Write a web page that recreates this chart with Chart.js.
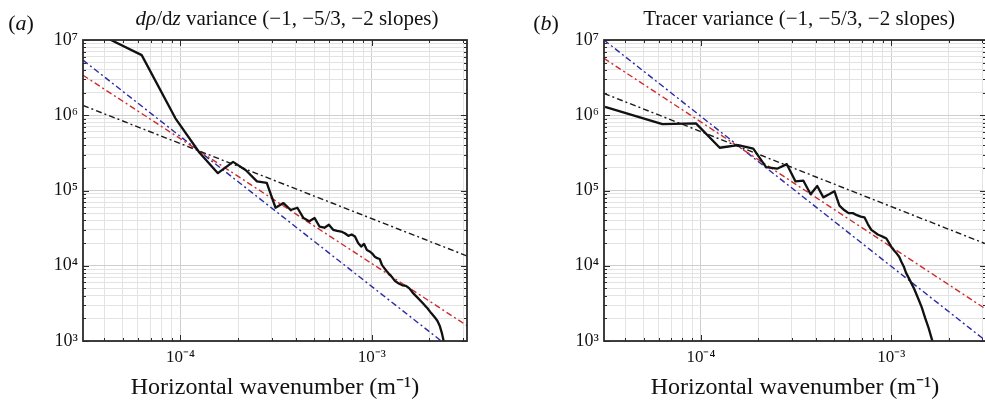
<!DOCTYPE html>
<html>
<head>
<meta charset="utf-8">
<script src="https://cdn.jsdelivr.net/npm/chart.js@4.4.1/dist/chart.umd.min.js"></script>
<style>
  html, body { margin: 0; padding: 0; background: #fff; overflow: hidden; }
  #wrap { position: relative; width: 985px; height: 404px; overflow: hidden; }
  canvas { position: absolute; top: 0; }
  #panelA { left: 0; }
  #panelB { left: 492px; }
</style>
</head>
<body>
<div id="wrap">
  <canvas id="panelA" width="492" height="404"></canvas>
  <canvas id="panelB" width="500" height="404"></canvas>
</div>
<script>
// wavenumber spacing (rad/m); the spectra are given at integer multiples of it
const dk = 3.14e-5;

// (a) d rho/dz variance spectrum
const modesA = [1, 2, 3, 4, 5, 6, 7, 8, 9, 10, 11, 12, 13, 14, 15, 16, 17, 18, 19, 20,
  21, 22, 23, 24, 25, 26, 27, 28, 29, 30, 31, 32, 33, 34, 35, 36, 37, 38, 39, 40,
  42, 44, 46, 48, 50, 52, 55, 58, 60, 62, 65, 68, 70, 72, 74, 76];
const varA = [1.5e7, 6.3e6, 9.1e5, 3.2e5, 1.7e5, 2.4e5, 1.86e5, 1.32e5, 1.26e5, 5.9e4,
  6.8e4, 5.5e4, 5.9e4, 4.3e4, 3.9e4, 4.3e4, 3.3e4, 3.2e4, 3.5e4, 3.0e4,
  2.9e4, 2.85e4, 2.7e4, 2.5e4, 2.6e4, 2.45e4, 2.0e4, 1.8e4, 1.95e4, 1.62e4,
  1.55e4, 1.45e4, 1.32e4, 1.26e4, 1.23e4, 1.02e4, 9.3e3, 8.5e3, 7.9e3, 7.4e3,
  6.3e3, 5.8e3, 5.5e3, 5.4e3, 5.0e3, 4.4e3, 3.8e3, 3.3e3, 3.0e3, 2.75e3,
  2.35e3, 2.05e3, 1.86e3, 1.6e3, 1.26e3, 9.3e2];

// (b) tracer variance spectrum
const modesB = [1, 2, 3, 4, 5, 6, 7, 8, 9, 10, 11, 12, 13, 14, 15, 16, 17, 18, 19, 20,
  21, 22, 23, 24, 25, 26, 27, 28, 29, 30, 31, 32, 33, 34, 35, 36, 37, 38, 40, 42,
  44, 46, 48, 50, 52, 53];
const varB = [1.29e6, 7.6e5, 7.8e5, 3.7e5, 4.0e5, 3.6e5, 2.05e5, 1.95e5, 2.24e5, 1.32e5,
  1.35e5, 8.9e4, 1.15e5, 8.1e4, 8.9e4, 9.8e4, 6.3e4, 5.5e4, 5.0e4, 5.0e4,
  4.7e4, 4.5e4, 4.4e4, 3.55e4, 3.0e4, 2.8e4, 2.6e4, 2.5e4, 2.4e4, 2.3e4,
  2.0e4, 1.74e4, 1.58e4, 1.45e4, 1.32e4, 1.12e4, 9.8e3, 8.1e3, 6.3e3, 4.9e3,
  3.7e3, 2.8e3, 2.0e3, 1.48e3, 1.05e3, 8.9e2];

// reference slopes: value at the left and right end of the x range
const xEnds = [3.1e-5, 3.14e-3];
const slope1A = [1.35e6, 1.35e4];
const slope53A = [3.4e6, 1.6e3];
const slope2A = [5.4e6, 5.4e2];
const slope1B = [1.95e6, 1.95e4];
const slope53B = [5.7e6, 2.65e3];
const slope2B = [1.0e7, 1.0e3];

// axis ticks
const xTickVals = [1e-4, 1e-3];
const xTickLabels = ['10\u207B\u2074', '10\u207B\u00B3'];
const yTickVals = [1e3, 1e4, 1e5, 1e6, 1e7];
const yTickLabels = ['10\u00B3', '10\u2074', '10\u2075', '10\u2076', '10\u2077'];

const serif = '"Liberation Serif", "Times New Roman", serif';

function isMajor(v) {
  const l = Math.log10(v);
  return Math.abs(l - Math.round(l)) < 1e-6;
}

// all 1..9 x 10^e values inside [min, max] for grid lines
function gridValues(min, max) {
  const out = [];
  for (let e = Math.floor(Math.log10(min)); e <= Math.ceil(Math.log10(max)); e++) {
    for (let m = 1; m <= 9; m++) {
      const v = m * Math.pow(10, e);
      if (v >= min * 0.999 && v <= max * 1.001) out.push(v);
    }
  }
  return out;
}

function labelFor(value, vals, labels) {
  const i = vals.findIndex(v => Math.abs(Math.log10(v) - Math.log10(value)) < 1e-6);
  return i >= 0 ? labels[i] : '';
}

function drawParts(ctx, parts, cx, y, size) {
  const fonts = parts.map(p => (p.i ? 'italic ' : '') + size + 'px ' + serif);
  let total = 0;
  const widths = parts.map((p, k) => {
    ctx.font = fonts[k];
    const w = ctx.measureText(p.t).width;
    total += w;
    return w;
  });
  let x = cx - total / 2;
  ctx.textBaseline = 'alphabetic';
  ctx.textAlign = 'left';
  parts.forEach((p, k) => {
    ctx.font = fonts[k];
    ctx.fillText(p.t, x, y);
    x += widths[k];
  });
}

function makePanel(id, cfg) {
  const frame = {
    id: 'frame' + id,
    afterDraw(chart) {
      const { ctx, chartArea: a, scales } = chart;
      ctx.save();
      ctx.strokeStyle = '#2b2b2b';
      ctx.lineWidth = 1;
      ctx.beginPath();
      scales.x.ticks.forEach(t => {
        const px = Math.round(scales.x.getPixelForValue(t.value)) + 0.5;
        const len = isMajor(t.value) ? 6 : 3;
        ctx.moveTo(px, a.bottom); ctx.lineTo(px, a.bottom - len);
        ctx.moveTo(px, a.top); ctx.lineTo(px, a.top + len);
      });
      scales.y.ticks.forEach(t => {
        const py = Math.round(scales.y.getPixelForValue(t.value)) + 0.5;
        const len = isMajor(t.value) ? 6 : 3;
        ctx.moveTo(a.left, py); ctx.lineTo(a.left + len, py);
        ctx.moveTo(a.right, py); ctx.lineTo(a.right - len, py);
      });
      ctx.stroke();
      ctx.lineWidth = 1.8;
      ctx.strokeRect(a.left, a.top, a.right - a.left, a.bottom - a.top);

      ctx.fillStyle = '#111';
      drawParts(ctx, cfg.title, (a.left + a.right) / 2 + cfg.titleShift, 25, 21);
      drawParts(ctx, cfg.tag, cfg.tagX, 30, 22);
      ctx.restore();
    }
  };

  const line = (vals, color) => ({
    data: [{ x: xEnds[0], y: vals[0] }, { x: xEnds[1], y: vals[1] }],
    borderColor: color,
    borderWidth: 1.4,
    borderDash: [6, 3, 2, 3],
    pointRadius: 0
  });

  const gridColor = c => (c.tick && isMajor(c.tick.value)) ? '#cfcfcf' : '#e3e3e3';

  new Chart(document.getElementById(id), {
    type: 'line',
    data: {
      datasets: [
        {
          data: cfg.modes.map((n, i) => ({ x: n * dk, y: cfg.vals[i] })),
          borderColor: '#111',
          borderWidth: 2.3,
          pointRadius: 0,
          borderJoinStyle: 'round'
        },
        line(cfg.s1, '#1a1a1a'),
        line(cfg.s53, '#d02a2a'),
        line(cfg.s2, '#2a2aa8')
      ]
    },
    options: {
      responsive: false,
      animation: false,
      devicePixelRatio: 1,
      layout: { padding: { top: 40, right: cfg.padRight, left: 0, bottom: 0 } },
      plugins: { legend: { display: false }, tooltip: { enabled: false }, title: { display: false } },
      scales: {
        x: {
          type: 'logarithmic',
          min: xEnds[0],
          max: xEnds[1],
          afterBuildTicks: s => { s.ticks = gridValues(xEnds[0], xEnds[1]).map(v => ({ value: v })); },
          afterFit: s => { s.height = 63; },
          grid: { color: gridColor, lineWidth: 1, drawTicks: false },
          border: { display: false },
          ticks: {
            autoSkip: false,
            maxRotation: 0,
            padding: 6,
            color: '#111',
            font: { family: serif, size: 17 },
            callback: v => labelFor(v, xTickVals, xTickLabels)
          },
          title: {
            display: true,
            text: 'Horizontal wavenumber (m\u207B\u00B9)',
            color: '#111',
            font: { family: serif, size: 24 },
            padding: { top: 0, bottom: 2 }
          }
        },
        y: {
          type: 'logarithmic',
          min: 1e3,
          max: 1e7,
          afterBuildTicks: s => { s.ticks = gridValues(1e3, 1e7).map(v => ({ value: v })); },
          afterFit: s => { s.width = cfg.yWidth; },
          grid: { color: gridColor, lineWidth: 1, drawTicks: false },
          border: { display: false },
          ticks: {
            autoSkip: false,
            padding: 5,
            color: '#111',
            font: { family: serif, size: 18 },
            callback: v => labelFor(v, yTickVals, yTickLabels)
          }
        }
      }
    },
    plugins: [frame]
  });
}

makePanel('panelA', {
  modes: modesA, vals: varA,
  s1: slope1A, s53: slope53A, s2: slope2A,
  yWidth: 83, padRight: 25, titleShift: 12, tagX: 21,
  title: [{ t: 'd\u03C1', i: true }, { t: '/d', i: false }, { t: 'z', i: true },
          { t: ' variance (\u22121, \u22125/3, \u22122 slopes)', i: false }],
  tag: [{ t: '(', i: false }, { t: 'a', i: true }, { t: ')', i: false }]
});

makePanel('panelB', {
  modes: modesB, vals: varB,
  s1: slope1B, s53: slope53B, s2: slope2B,
  yWidth: 112, padRight: 6, titleShift: 4, tagX: 546 - 492,
  title: [{ t: 'Tracer variance (\u22121, \u22125/3, \u22122 slopes)', i: false }],
  tag: [{ t: '(', i: false }, { t: 'b', i: true }, { t: ')', i: false }]
});
</script>
</body>
</html>
